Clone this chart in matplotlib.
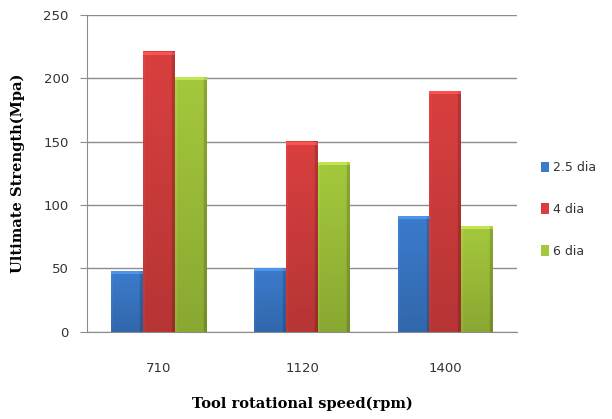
import numpy as np
import matplotlib
matplotlib.use("Agg")
import matplotlib.pyplot as plt
from matplotlib.colors import to_rgb
from matplotlib.patches import Patch

# Tool rotational speed groups and ultimate strength per tool diameter
speeds = ["710", "1120", "1400"]
series_names = ["2.5 dia", "4 dia", "6 dia"]
dia_2_5 = [48, 50, 91]
dia_4 = [221, 150, 190]
dia_6 = [201, 134, 83]

colors = ["#3b7bcc", "#d93f3f", "#a4c83c"]


def shaded_bar(ax, x0, width, height, color):
    """Fill a bar with a soft vertical + horizontal gradient like an Excel bevel."""
    base = np.array(to_rgb(color))
    ny, nx = 60, 30
    yy = np.linspace(0, 1, ny)[:, None]          # 0 bottom -> 1 top
    xx = np.linspace(0, 1, nx)[None, :]          # 0 left -> 1 right
    shade = 0.84 + 0.16 * yy                     # darker toward the base
    edge = np.where(xx > 0.9, 0.84, 1.0)         # darker right rim
    lift = np.where(xx < 0.06, 1.05, 1.0)        # slight highlight on left rim
    fac = shade * edge * lift
    img = np.clip(base[None, None, :] * fac[:, :, None], 0, 1)
    ax.imshow(img, extent=(x0, x0 + width, 0, height), origin="lower",
              aspect="auto", interpolation="bilinear", zorder=3)
    # thin lighter bevel along the top
    cap_h = 2.2
    cap = np.clip(base * 1.08 + 0.06, 0, 1)
    capimg = np.tile(cap, (2, nx, 1))
    capimg[:, int(nx * 0.9):, :] *= 0.9
    ax.imshow(capimg, extent=(x0, x0 + width, height - cap_h, height),
              origin="lower", aspect="auto", interpolation="bilinear", zorder=4)


fig = plt.figure(figsize=(6.12, 4.19), dpi=100)
ax = fig.add_axes([0.142, 0.208, 0.703, 0.756])

x = np.arange(len(speeds))
bar_w = 1 / 4.5
all_series = [dia_2_5, dia_4, dia_6]
for i, (vals, col) in enumerate(zip(all_series, colors)):
    for xi, v in zip(x, vals):
        left = xi + (i - 1.5) * bar_w
        shaded_bar(ax, left, bar_w, v, col)

ax.set_xlim(-0.5, len(speeds) - 0.5)
ax.set_ylim(0, 250)
ax.set_yticks(range(0, 251, 50))
ax.set_xticks(x)
ax.set_xticklabels(speeds)

ax.grid(axis="y", color="#8c8c8c", linewidth=1.0, zorder=0)
ax.set_axisbelow(True)
for side in ["top", "right"]:
    ax.spines[side].set_visible(False)
for side in ["left", "bottom"]:
    ax.spines[side].set_color("#8c8c8c")
ax.tick_params(axis="y", length=5, color="#8c8c8c", labelsize=9.5,
               labelcolor="#333333", pad=8)
ax.tick_params(axis="x", length=0, labelsize=9.5, labelcolor="#333333", pad=22)

ax.set_xlabel("Tool rotational speed(rpm)", family="DejaVu Serif",
              fontweight="bold", fontsize=10.5, labelpad=15)
ax.set_ylabel("Ultimate Strength(Mpa)", family="DejaVu Serif",
              fontweight="bold", fontsize=10.5, labelpad=13)

handles = [Patch(facecolor=c, edgecolor="none") for c in colors]
fig.legend(handles, series_names, loc="center left",
           bbox_to_anchor=(0.865, 0.5), frameon=False, fontsize=9,
           handlelength=0.7, handleheight=0.9, handletextpad=0.3,
           labelspacing=2.3, labelcolor="#333333")

fig.savefig("out.png", dpi=100)
